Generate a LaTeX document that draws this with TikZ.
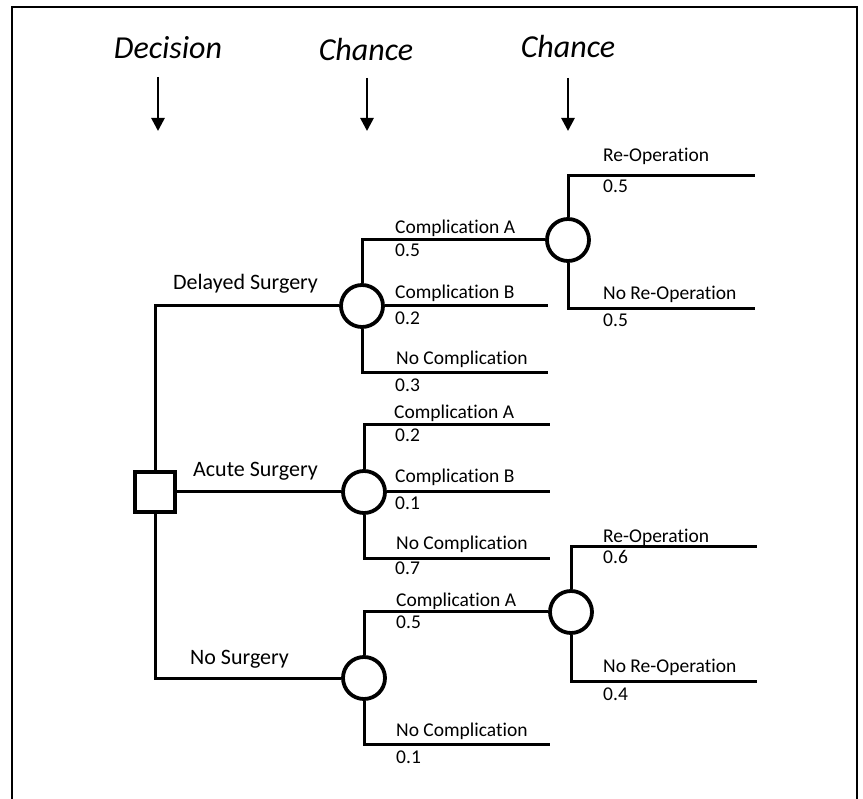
\documentclass[tikz,border=0pt]{standalone}
\usepackage{fontspec}
\setmainfont{Carlito}[Ligatures=NoCommon]
\usetikzlibrary{arrows.meta}
\begin{document}
\begin{tikzpicture}[x=1pt,y=-1pt,
  tree/.style={line width=3pt},
  chance/.style={circle,draw,line width=3.8pt,minimum size=42pt,inner sep=0pt,fill=white},
  decision/.style={rectangle,draw,line width=3.6pt,minimum size=40pt,inner sep=0pt,fill=white},
  head/.style={font=\fontsize{32}{38}\selectfont\itshape,anchor=base,inner sep=0pt},
  mainlbl/.style={font=\fontsize{22}{26}\selectfont,anchor=base west,inner sep=0pt},
  lbl/.style={font=\fontsize{19.5}{23}\selectfont,anchor=base west,inner sep=0pt},
  pointer/.style={line width=2.7pt,-{Triangle[width=13pt,length=13pt]}}
]
\useasboundingbox (0,0) rectangle (863,799);
\clip (0,0) rectangle (863,799);
\draw[line width=2.5pt] (12,7) rectangle (857,830);

% headings and pointers
\node[head] (hd) at (168,59) {Decision};
\node[head] (hc1) at (366,61) {Chance};
\node[head] (hc2) at (568,58) {Chance};
\coordinate (a0s) at (158,77);  \coordinate (a0e) at (158,131);
\coordinate (a1s) at (367,78);  \coordinate (a1e) at (367,131);
\coordinate (a2s) at (568,78);  \coordinate (a2e) at (568,131);
\draw[pointer] (a0s) -- (a0e);
\draw[pointer] (a1s) -- (a1e);
\draw[pointer] (a2s) -- (a2e);

% nodes
\node[decision] (D) at (155,492) {};
\node[chance] (C1) at (362,306) {};
\node[chance] (C2) at (364,492) {};
\node[chance] (C3) at (364,678) {};
\node[chance] (C4) at (568,240) {};
\node[chance] (C5) at (571,612) {};

% free ends
\coordinate (e1b) at (548,306);
\coordinate (e1c) at (548,373);
\coordinate (e4a) at (755,176);
\coordinate (e4b) at (755,309);
\coordinate (e2a) at (550,425);
\coordinate (e2b) at (550,492);
\coordinate (e2c) at (550,559);
\coordinate (e3b) at (550,744);
\coordinate (e5a) at (757,547);
\coordinate (e5b) at (757,681);

% connectors
\draw[tree] (D.north) |- (C1.west);
\draw[tree] (D.east) -- (C2.west);
\draw[tree] (D.south) |- (C3.west);

\draw[tree] (C1.north) |- (C4.west);
\draw[tree] (C1.east) -- (e1b);
\draw[tree] (C1.south) |- (e1c);

\draw[tree] (C4.north) |- (e4a);
\draw[tree] (C4.south) |- (e4b);

\draw[tree] (C2.north) |- (e2a);
\draw[tree] (C2.east) -- (e2b);
\draw[tree] (C2.south) |- (e2c);

\draw[tree] (C3.north) |- (C5.west);
\draw[tree] (C3.south) |- (e3b);

\draw[tree] (C5.north) |- (e5a);
\draw[tree] (C5.south) |- (e5b);

% main labels
\node[mainlbl] (lDS) at (173,290) {Delayed Surgery};
\node[mainlbl] (lAS) at (193,477) {Acute Surgery};
\node[mainlbl] (lNS) at (190,664) {No Surgery};

% delayed branch labels
\node[lbl] (l1a) at (395,234) {Complication A};
\node[lbl] (p1a) at (395,257) {0.5};
\node[lbl] (l1b) at (395,299) {Complication B};
\node[lbl] (p1b) at (395,325) {0.2};
\node[lbl] (l1c) at (396,365) {No Complication};
\node[lbl] (p1c) at (395,392) {0.3};

\node[lbl] (l4a) at (603,162) {Re-Operation};
\node[lbl] (p4a) at (603,193) {0.5};
\node[lbl] (l4b) at (603,300) {No Re-Operation};
\node[lbl] (p4b) at (603,327) {0.5};

% acute branch labels
\node[lbl] (l2a) at (394,419) {Complication A};
\node[lbl] (p2a) at (395,442) {0.2};
\node[lbl] (l2b) at (395,483) {Complication B};
\node[lbl] (p2b) at (395,510) {0.1};
\node[lbl] (l2c) at (396,550) {No Complication};
\node[lbl] (p2c) at (395,575) {0.7};

% no surgery branch labels
\node[lbl] (l3a) at (396,606) {Complication A};
\node[lbl] (p3a) at (396,628) {0.5};
\node[lbl] (l3b) at (396,736) {No Complication};
\node[lbl] (p3b) at (396,763) {0.1};

\node[lbl] (l5a) at (603,543) {Re-Operation};
\node[lbl] (p5a) at (603,564) {0.6};
\node[lbl] (l5b) at (603,672) {No Re-Operation};
\node[lbl] (p5b) at (603,700) {0.4};
\end{tikzpicture}
\end{document}
